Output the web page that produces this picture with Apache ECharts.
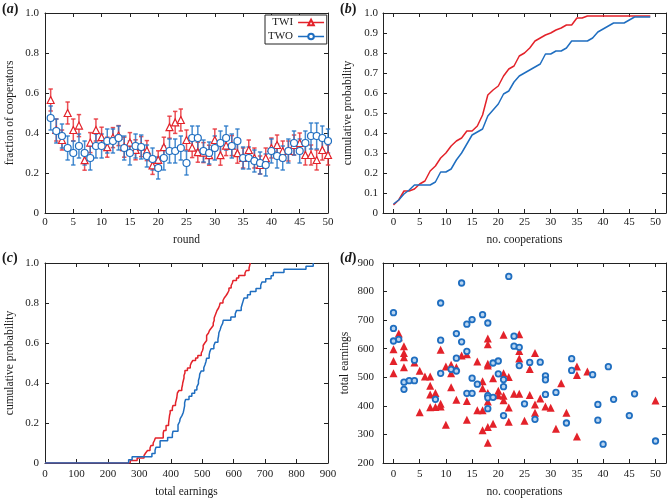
<!DOCTYPE html>
<html>
<head>
<meta charset="utf-8">
<script src="https://cdn.jsdelivr.net/npm/echarts@6/dist/echarts.min.js"></script>
<style>
html,body{margin:0;padding:0;background:#fff;}
#chart{width:667px;height:501px;}
</style>
</head>
<body>
<div id="chart"></div>
<script>
// ---------- DATA ----------
// (a) fraction of cooperators per round
const rounds = [1,2,3,4,5,6,7,8,9,10,11,12,13,14,15,16,17,18,19,20,21,22,23,24,25,26,27,28,29,30,31,32,33,34,35,36,37,38,39,40,41,42,43,44,45,46,47,48,49,50];
const twiMean = [0.565,0.415,0.365,0.50,0.415,0.437,0.264,0.352,0.415,0.379,
                 0.329,0.377,0.387,0.329,0.352,0.316,0.332,0.312,0.238,0.266,
                 0.329,0.429,0.453,0.465,0.365,0.327,0.304,0.302,0.289,0.365,
                 0.289,0.337,0.337,0.299,0.275,0.315,0.275,0.240,0.275,0.325,
                 0.340,0.310,0.310,0.340,0.350,0.290,0.290,0.265,0.315,0.290];
const twiErr  = [0.055,0.055,0.050,0.055,0.055,0.055,0.050,0.050,0.055,0.050,
                 0.050,0.050,0.050,0.050,0.050,0.050,0.050,0.050,0.045,0.045,
                 0.050,0.055,0.055,0.055,0.050,0.050,0.050,0.050,0.050,0.055,
                 0.050,0.050,0.050,0.050,0.050,0.050,0.050,0.045,0.050,0.050,
                 0.050,0.050,0.050,0.050,0.050,0.050,0.050,0.050,0.050,0.050];
const twoMean = [0.475,0.410,0.385,0.325,0.300,0.335,0.300,0.275,0.335,0.335,
                 0.360,0.360,0.375,0.325,0.300,0.335,0.330,0.285,0.270,0.225,
                 0.275,0.310,0.310,0.325,0.250,0.375,0.375,0.310,0.300,0.325,
                 0.350,0.375,0.335,0.360,0.275,0.275,0.260,0.250,0.240,0.310,
                 0.285,0.275,0.310,0.350,0.310,0.350,0.385,0.385,0.375,0.360];
const twoErr  = [0.060,0.060,0.060,0.060,0.060,0.060,0.060,0.060,0.060,0.060,
                 0.060,0.060,0.060,0.060,0.060,0.060,0.060,0.055,0.055,0.055,
                 0.060,0.060,0.060,0.060,0.060,0.060,0.060,0.055,0.055,0.060,
                 0.060,0.060,0.060,0.060,0.055,0.055,0.055,0.055,0.055,0.060,
                 0.060,0.060,0.060,0.060,0.060,0.060,0.065,0.065,0.060,0.060];

// (b) cumulative probability of no. cooperations
const coopSteps = [0,1,2,3,4,5,6,7,8,9,10,11,12,13,14,15,16,17,18,19,20,21,22,23,24,25,26,27,28,29,30,31,32,33,34,35,36,37,38,39,40,41,42,43,44,45,46,47,48,49];
const twiCdf = [0.04,0.065,0.11,0.11,0.12,0.145,0.16,0.21,0.235,0.275,
                0.30,0.335,0.36,0.375,0.41,0.41,0.435,0.49,0.59,0.615,
                0.635,0.685,0.72,0.735,0.785,0.80,0.825,0.86,0.875,0.89,
                0.90,0.915,0.925,0.94,0.94,0.975,0.975,0.985,0.985,0.985,
                0.985,0.985,0.985,0.985,0.985,0.985,0.985,0.985,0.985,0.985];
const twoCdf = [0.045,0.065,0.095,0.115,0.14,0.14,0.14,0.14,0.155,0.205,
                0.205,0.22,0.265,0.30,0.345,0.39,0.405,0.42,0.485,0.515,
                0.545,0.595,0.61,0.655,0.685,0.70,0.715,0.73,0.745,0.795,
                0.795,0.81,0.81,0.825,0.86,0.86,0.86,0.86,0.875,0.905,
                0.92,0.935,0.95,0.95,0.95,0.965,0.98,0.98,0.98,0.98];

// (d) individual players: no. cooperations vs total earnings
const twiCoop = [0,0,0,1,1,2,2,2,2,4,5,5,6,7,7,7,7,8,8,9,9,9,10,10,11,11,11,12,12,13,14,14,14,16,16,17,17,17,17,
                 18,18,18,18,18,18,18,18,19,19,20,20,21,21,21,21,22,22,22,23,24,24,24,24,25,26,26,27,27,27,28,29,30,31,32,33,35,35,35,37,50];
const twiEarn = [598,557,514,653,640,609,585,570,535,552,523,378,503,503,470,440,395,445,396,596,407,398,538,334,544,514,465,535,421,576,581,417,351,555,385,486,462,385,315,
                 636,616,547,541,445,415,326,271,497,337,453,437,649,514,435,420,501,394,344,442,651,592,566,442,348,529,438,585,405,376,426,398,393,320,479,376,538,508,293,520,419];
const twoCoop = [0,0,0,1,2,2,3,4,4,8,9,9,9,11,12,12,12,13,13,14,14,14,15,15,15,16,17,18,18,18,18,19,19,20,20,21,21,21,22,
                 23,23,24,24,25,26,27,28,29,29,29,31,33,34,34,38,39,39,40,41,42,45,46,50];
const twoEarn = [726,671,627,633,483,458,488,488,560,423,760,630,514,528,653,567,522,830,624,686,591,444,702,497,444,476,719,690,436,428,390,430,550,557,512,492,467,366,853,
                 644,609,605,541,407,552,353,553,505,491,440,447,340,565,524,509,405,350,266,537,423,366,442,277];

// tick labels
const xTicksCoop = [0,5,10,15,20,25,30,35,40,45,50];

// ---------- STYLE ----------
const FONT = 'Liberation Serif';
const TXT = '#1a1a1a';
const RED = '#e3222a';
const BLUE = '#1f6ec0';
const RED_EB = 'rgba(232,50,58,0.85)';
const BLUE_EB = 'rgba(40,120,200,0.85)';

const grids = [
  {left:45, top:13, width:283, height:200},
  {left:383, top:13, width:283, height:200},
  {left:45, top:263, width:283, height:200},
  {left:383, top:263, width:283, height:200}
];

function fmt1(v){ return v === 0 ? '0' : v.toFixed(1); }

function baseAxis(extra){
  return Object.assign({
    type:'value',
    axisLine:{show:true, onZero:false, lineStyle:{color:'#222', width:1}},
    axisTick:{show:true, inside:true, length:4, lineStyle:{color:'#222'}},
    splitLine:{show:false},
    axisLabel:{fontFamily:FONT, fontSize:11, color:TXT},
    nameTextStyle:{fontFamily:FONT, fontSize:11.5, color:TXT},
    nameLocation:'middle'
  }, extra);
}
function mirror(ax, pos){
  const m = JSON.parse(JSON.stringify(ax));
  m.position = pos;
  m.name = '';
  m.axisLabel = Object.assign({}, m.axisLabel, {show:false});
  return m;
}

const xAxes = [];
const yAxes = [];
function addX(ax){ xAxes.push(ax); xAxes.push(mirror(ax,'top')); return xAxes.length-2; }
function addY(ax){ yAxes.push(ax); yAxes.push(mirror(ax,'right')); return yAxes.length-2; }

// (a)
const xa = addX(baseAxis({gridIndex:0, position:'bottom', min:0, max:50, interval:5, name:'round', nameGap:21, axisLabel:{fontFamily:FONT,fontSize:11,color:TXT,margin:4}}));
const ya = addY(baseAxis({gridIndex:0, position:'left', min:0, max:1, interval:0.2, name:'fraction of cooperators', nameGap:29, axisLabel:{fontFamily:FONT,fontSize:11,color:TXT,margin:6,formatter:fmt1}}));
// (b)
const xb = addX(baseAxis({gridIndex:1, position:'bottom', min:-2, max:52, name:'no. cooperations', nameGap:21,
  axisTick:{show:true, inside:true, length:4, lineStyle:{color:'#222'}, customValues:xTicksCoop},
  axisLabel:{fontFamily:FONT,fontSize:11,color:TXT,margin:4, customValues:xTicksCoop}}));
const yb = addY(baseAxis({gridIndex:1, position:'left', min:0, max:1, interval:0.1, name:'cumulative probability', nameGap:29, axisLabel:{fontFamily:FONT,fontSize:11,color:TXT,margin:5,formatter:fmt1}}));
// (c)
const xc = addX(baseAxis({gridIndex:2, position:'bottom', min:0, max:900, interval:100, name:'total earnings', nameGap:23, axisLabel:{fontFamily:FONT,fontSize:11,color:TXT,margin:6}}));
const yc = addY(baseAxis({gridIndex:2, position:'left', min:0, max:1, interval:0.2, name:'cumulative probability', nameGap:29, axisLabel:{fontFamily:FONT,fontSize:11,color:TXT,margin:6,formatter:fmt1}}));
// (d)
const xd = addX(baseAxis({gridIndex:3, position:'bottom', min:-2, max:52, name:'no. cooperations', nameGap:23,
  axisTick:{show:true, inside:true, length:4, lineStyle:{color:'#222'}, customValues:xTicksCoop},
  axisLabel:{fontFamily:FONT,fontSize:11,color:TXT,margin:6, customValues:xTicksCoop}}));
const yd = addY(baseAxis({gridIndex:3, position:'left', min:200, max:900, interval:100, name:'total earnings', nameGap:32, axisLabel:{fontFamily:FONT,fontSize:11,color:TXT,margin:9}}));

function errorBars(xs, mean, err, color, xi, yi, name){
  return {
    type:'custom', name:name, xAxisIndex:xi, yAxisIndex:yi, z:2, silent:true,
    data: xs.map((x,i)=>[x, mean[i]-err[i], mean[i]+err[i]]),
    encode:{x:0, y:[1,2]},
    renderItem:function(params, api){
      const x = api.value(0);
      const lo = api.coord([x, api.value(1)]);
      const hi = api.coord([x, api.value(2)]);
      const w = 2.2;
      const st = {stroke:color, lineWidth:1.5};
      return {type:'group', children:[
        {type:'line', shape:{x1:lo[0], y1:lo[1], x2:hi[0], y2:hi[1]}, style:st},
        {type:'line', shape:{x1:lo[0]-w, y1:lo[1], x2:lo[0]+w, y2:lo[1]}, style:st},
        {type:'line', shape:{x1:hi[0]-w, y1:hi[1], x2:hi[0]+w, y2:hi[1]}, style:st}
      ]};
    }
  };
}

function ecdf(values, start){
  const s = values.slice().sort((a,b)=>a-b);
  const n = s.length;
  const out = [[start, 0]];
  s.forEach((v,i)=>{ out.push([v, (i+1)/n]); });
  return out;
}

const series = [
  {type:'line', name:'TWI', xAxisIndex:xa, yAxisIndex:ya, z:3,
   data: rounds.map((r,i)=>[r, twiMean[i]]),
   symbol:'triangle', symbolSize:7, showSymbol:true,
   lineStyle:{opacity:0, width:0}, itemStyle:{color:'#fff', borderColor:RED, borderWidth:1.2}},
  {type:'line', name:'TWO', xAxisIndex:xa, yAxisIndex:ya, z:4,
   data: rounds.map((r,i)=>[r, twoMean[i]]),
   symbol:'circle', symbolSize:7, showSymbol:true,
   lineStyle:{opacity:0, width:0}, itemStyle:{color:'#fff', borderColor:BLUE, borderWidth:1.2}},
  errorBars(rounds, twiMean, twiErr, RED_EB, xa, ya, 'TWI err'),
  errorBars(rounds, twoMean, twoErr, BLUE_EB, xa, ya, 'TWO err'),
  {type:'line', name:'TWI cdf', xAxisIndex:xb, yAxisIndex:yb, showSymbol:false, symbol:'none',
   data: coopSteps.map((c,i)=>[c, twiCdf[i]]), lineStyle:{color:RED, width:1.5}},
  {type:'line', name:'TWO cdf', xAxisIndex:xb, yAxisIndex:yb, showSymbol:false, symbol:'none',
   data: coopSteps.map((c,i)=>[c, twoCdf[i]]), lineStyle:{color:BLUE, width:1.5}},
  {type:'line', name:'TWI earn cdf', xAxisIndex:xc, yAxisIndex:yc, showSymbol:false, symbol:'none', step:'end',
   data: ecdf(twiEarn, 0), lineStyle:{color:RED, width:1.5}},
  {type:'line', name:'TWO earn cdf', xAxisIndex:xc, yAxisIndex:yc, showSymbol:false, symbol:'none', step:'end',
   data: ecdf(twoEarn, 0), lineStyle:{color:BLUE, width:1.5}},
  {type:'scatter', name:'TWI pts', xAxisIndex:xd, yAxisIndex:yd, symbol:'triangle', symbolSize:8,
   data: twiCoop.map((c,i)=>[c, twiEarn[i]]), itemStyle:{color:RED, opacity:1}},
  {type:'scatter', name:'TWO pts', xAxisIndex:xd, yAxisIndex:yd, symbol:'circle', symbolSize:5.5,
   data: twoCoop.map((c,i)=>[c, twoEarn[i]]), itemStyle:{color:'#b9d5f0', borderColor:BLUE, borderWidth:1.8, opacity:1}}
];

function panelTitle(letter, left, top){
  return {
    text:'{p|(}{i|' + letter + '}{p|)}', left:left, top:top, padding:0,
    textStyle:{rich:{
      p:{fontFamily:FONT, fontSize:14, color:TXT},
      i:{fontFamily:FONT, fontSize:14, fontStyle:'italic', color:TXT}
    }}
  };
}

const option = {
  animation:false,
  backgroundColor:'#fff',
  title:[panelTitle('a',2,2), panelTitle('b',340,2), panelTitle('c',2,251), panelTitle('d',340,251)],
  grid: grids,
  xAxis: xAxes,
  yAxis: yAxes,
  legend:{
    left:265, top:15, orient:'vertical', align:'right',
    itemWidth:26, itemHeight:7, itemGap:3, padding:[2,2,2,3],
    borderColor:'#222', borderWidth:1, backgroundColor:'#fff',
    textStyle:{fontFamily:FONT, fontSize:11, color:TXT, padding:[0,0,0,0]},
    data:[
      {name:'TWI', lineStyle:{color:RED, width:1.5, opacity:1}},
      {name:'TWO', lineStyle:{color:BLUE, width:1.5, opacity:1}}
    ]
  },
  series: series
};

const chart = echarts.init(document.getElementById('chart'), null, {renderer:'canvas'});
chart.setOption(option);
</script>
</body>
</html>
